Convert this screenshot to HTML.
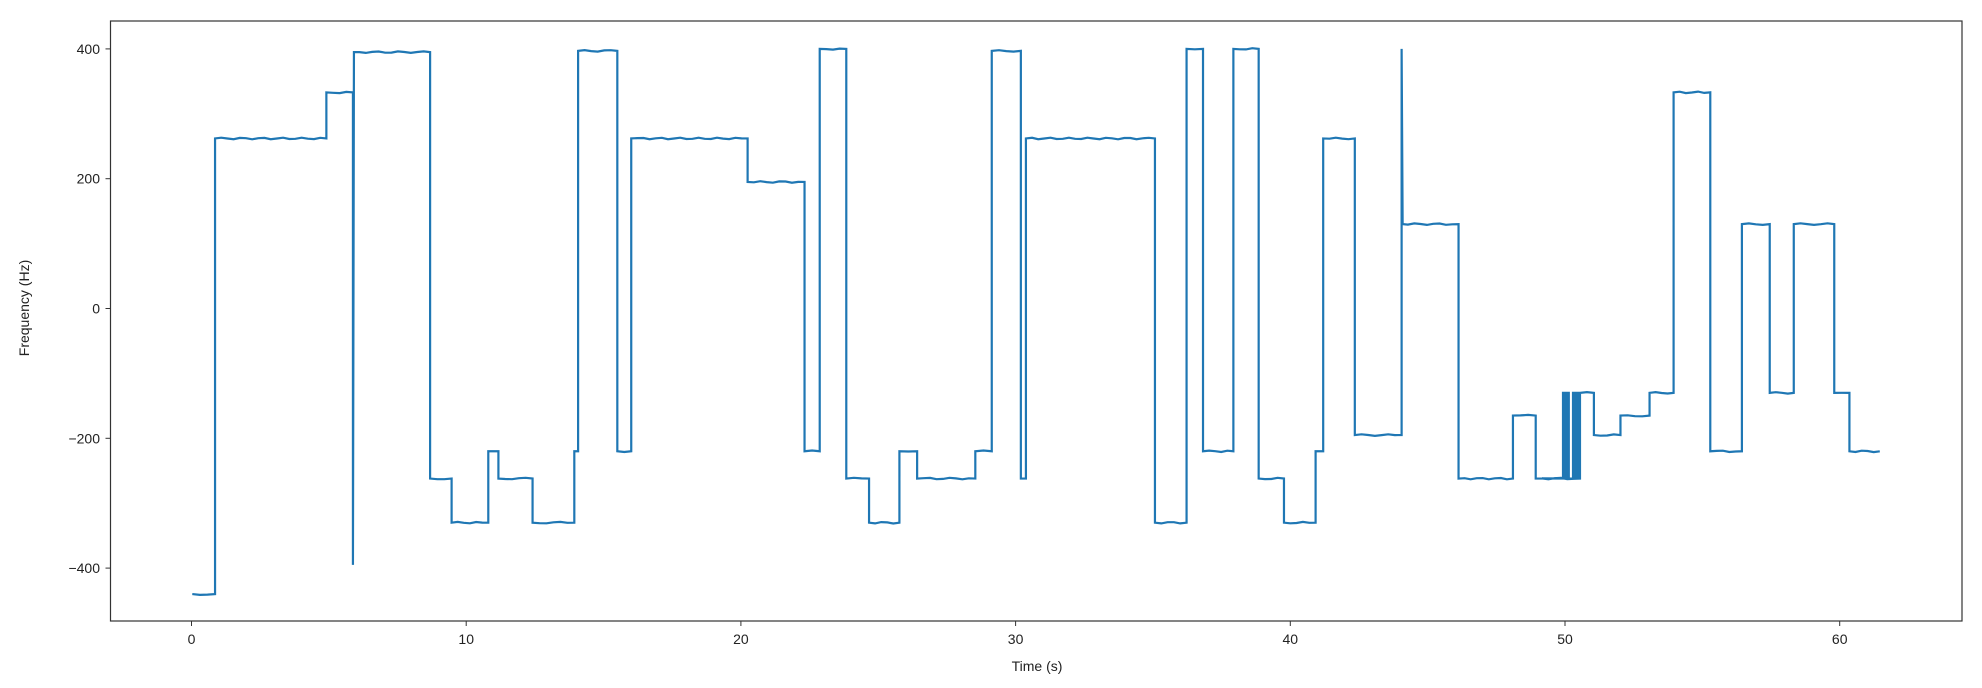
<!DOCTYPE html>
<html><head><meta charset="utf-8"><style>
html,body{margin:0;padding:0;background:#fff;}
svg{display:block;}
text{font-family:"Liberation Sans","DejaVu Sans",sans-serif;font-size:14px;fill:#222;}
</style></head><body>
<svg id="s" width="1982" height="688" viewBox="0 0 1982 688" xmlns="http://www.w3.org/2000/svg">
<rect x="0" y="0" width="1982" height="688" fill="#fff"/>
<g id="ticks"></g>
<path id="line" fill="none" stroke="#1f77b4" stroke-width="2.2" stroke-linejoin="miter"/>
<rect x="110.5" y="21" width="1851.5" height="600" fill="none" stroke="#333" stroke-width="1.2"/>
<text x="1037" y="671" text-anchor="middle">Time (s)</text>
<text x="0" y="0" text-anchor="middle" transform="translate(29,308) rotate(-90)">Frequency (Hz)</text>
</svg>
<script>
var K=1.265;
function X(t){return 191.5+27.47*t;}
function Y(f){return 308.5-0.649*f;}
var g=document.getElementById('ticks'),h='';
for(var t=0;t<=60;t+=10){var x=X(t);h+='<line x1="'+x+'" y1="621" x2="'+x+'" y2="626" stroke="#333" stroke-width="1"/><text x="'+x+'" y="644" text-anchor="middle">'+t+'</text>';}
for(var f=-400;f<=400;f+=200){var y=Y(f);h+='<line x1="105.5" y1="'+y+'" x2="110.5" y2="'+y+'" stroke="#333" stroke-width="1"/><text x="100" y="'+(y+5)+'" text-anchor="end">'+(f<0?'\u2212'+(-f):f)+'</text>';}
g.innerHTML=h;
var steps=[[152,-440],[170,262],[258,333],[279,395],[340,-262],[357,-330],[386,-220],[394,-262],[421,-330],[454,-220],[457,397],[488,-220],[499,262],[591,195],[636,-220],[648,400],[669,-262],[687,-330],[711,-220],[725,-262],[771,-220],[784,397],[807,-262],[811,262],[913,-330],[938,400],[951,-220],[975,400],[995,-262],[1015,-330],[1040,-220],[1046,262],[1071,-195],[1108,130],[1153,-262],[1196,-165],[1214,-262],[1249,-130],[1260,-195],[1281,-165],[1304,-130],[1323,333],[1352,-220],[1377,130],[1399,-130],[1418,130],[1450,-130],[1462,-220],[1486,null]];
var d='';
for(var i=0;i<steps.length-1;i++){
 var x0=steps[i][0]*K,x1=steps[i+1][0]*K,y=Y(steps[i][1]);
 if(i==0)d+='M'+x0+' '+y;
 else d+=' L'+x0+' '+y;
 // special spikes
 if(steps[i][0]==279){d=d.replace(/ L[^L]*$/,'');d+=' L'+x0+' '+Y(-395)+' L'+(x0+1)+' '+y;}
 if(steps[i][0]==1108){d=d.replace(/ L[^L]*$/,'');d+=' L'+x0+' '+Y(400)+' L'+(x0+1)+' '+y;}
 if(steps[i][0]==1214){
   var xs=[1563,1566,1568,1573,1575,1577,1579];
   d+=' L'+(1563)+' '+y;
   var lo=Y(-262),hi=Y(-130);
   for(var j=0;j<xs.length;j++){d+=' L'+xs[j]+' '+lo+' L'+xs[j]+' '+hi+' L'+(xs[j]+0.8)+' '+hi+' L'+(xs[j]+0.8)+' '+lo;}
 }
 // plateau with slight jitter
 var n=Math.floor((x1-x0)/6);
 for(var k=1;k<n;k++){var xx=x0+k*(x1-x0)/n;var jy=y+(Math.sin(xx*0.7+i)*0.8);d+=' L'+xx.toFixed(1)+' '+jy.toFixed(1);}
 d+=' L'+x1+' '+y;
}
// dips
document.getElementById('line').setAttribute('d',d);
</script>
</body></html>
